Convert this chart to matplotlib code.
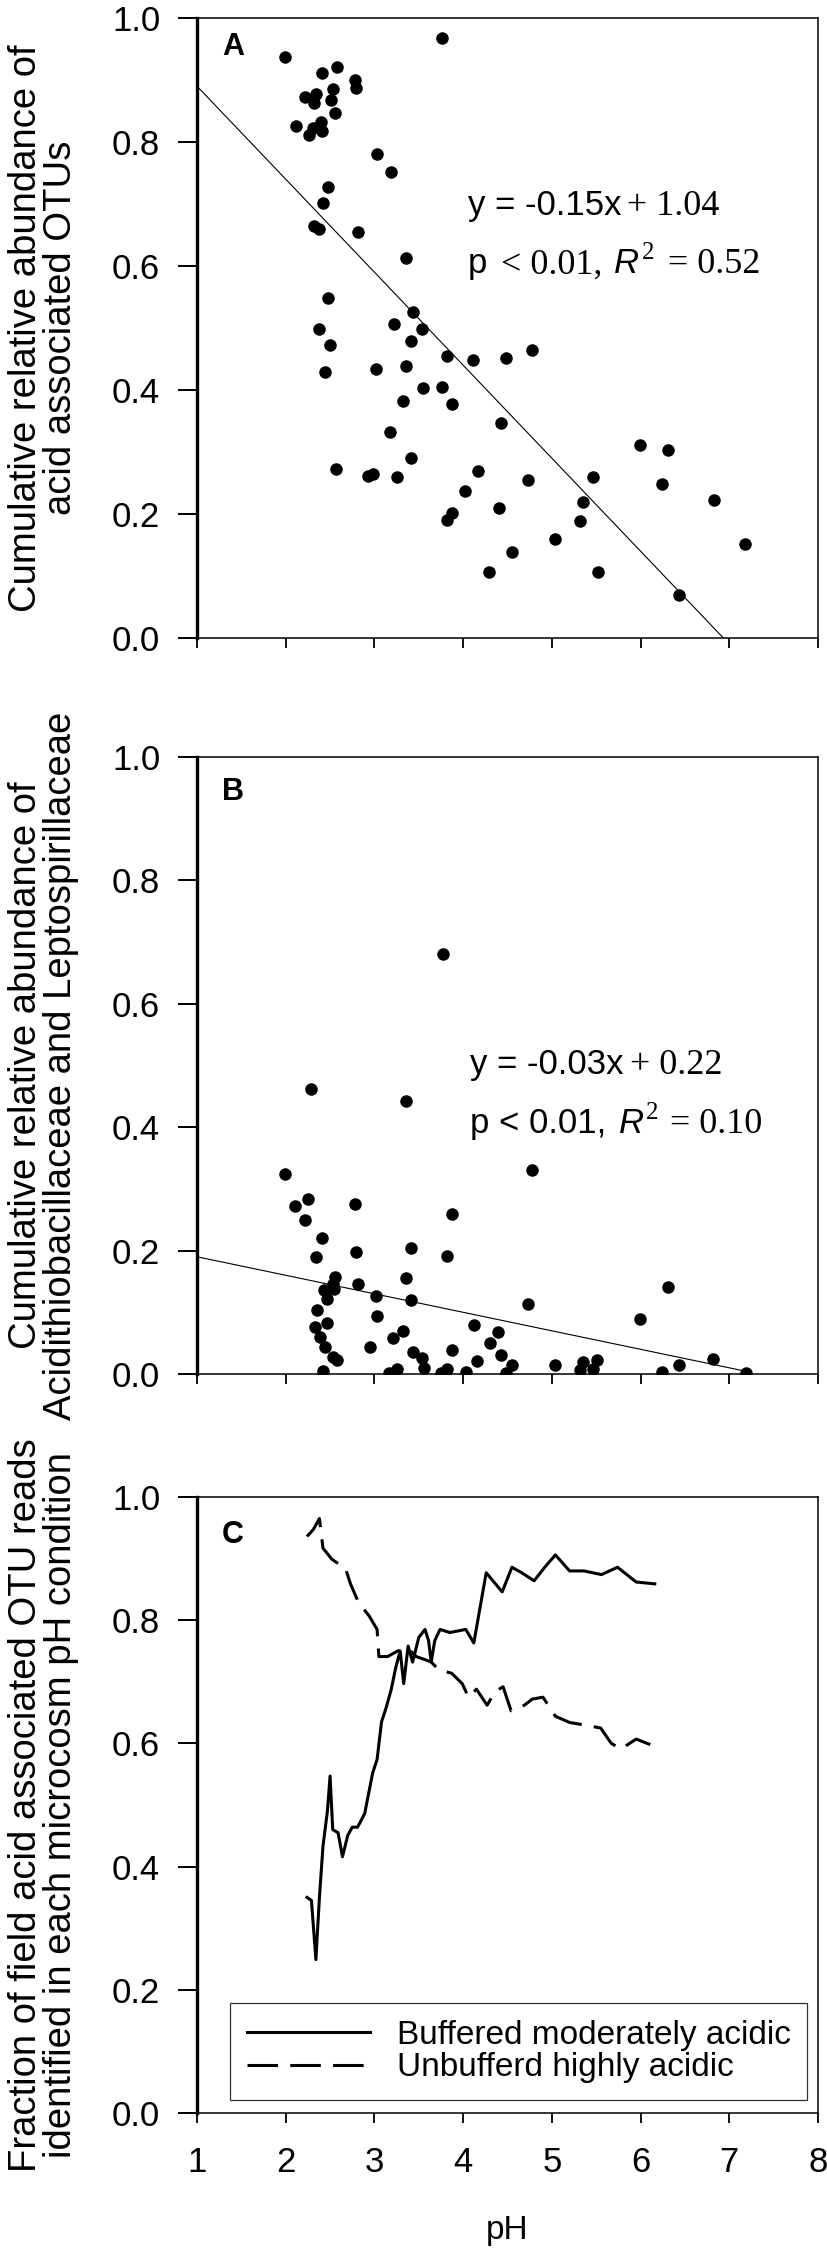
import matplotlib
matplotlib.use('Agg')
import numpy as np
import matplotlib.pyplot as plt
from matplotlib.transforms import offset_copy
from matplotlib.ticker import FormatStrFormatter

SANS = ['Liberation Sans', 'Arial', 'DejaVu Sans']
SERIF = ['Liberation Serif', 'Times New Roman', 'DejaVu Serif']
plt.rcParams['font.family'] = SANS

# ---------------- data ----------------
# Panel A: cumulative relative abundance of acid associated OTUs
ph_a = [1.99, 3.76, 2.41, 2.58, 2.78, 2.79, 2.22, 2.34, 2.53, 2.32, 2.51, 2.56,
        2.12, 2.26, 2.31, 2.40, 2.41, 3.03, 3.19, 2.48, 2.42, 2.32, 2.38, 2.82,
        3.36, 2.48, 2.37, 2.50, 2.44, 3.44, 3.22, 3.54, 3.41, 3.36, 3.02, 3.82,
        4.11, 4.48, 4.78, 3.55, 3.76, 3.32, 3.87, 4.43, 3.17, 3.41, 2.57, 2.93,
        2.98, 3.26, 4.17, 4.73, 4.02, 3.82, 3.88, 4.40, 4.55, 4.29, 5.04, 5.46,
        5.35, 5.32, 5.52, 5.99, 6.31, 6.24, 6.83, 7.18, 6.43]
abund_a = [0.937, 0.967, 0.912, 0.921, 0.900, 0.887, 0.873, 0.877, 0.885, 0.863,
           0.868, 0.846, 0.826, 0.811, 0.823, 0.832, 0.817, 0.780, 0.752, 0.727,
           0.702, 0.665, 0.659, 0.655, 0.613, 0.549, 0.498, 0.473, 0.429, 0.525,
           0.506, 0.498, 0.479, 0.439, 0.434, 0.455, 0.448, 0.451, 0.464, 0.403,
           0.405, 0.382, 0.377, 0.347, 0.333, 0.290, 0.272, 0.261, 0.264, 0.259,
           0.269, 0.255, 0.237, 0.190, 0.201, 0.209, 0.139, 0.107, 0.160, 0.259,
           0.220, 0.188, 0.107, 0.311, 0.304, 0.248, 0.223, 0.152, 0.070]
slope_a, intercept_a = -0.15, 1.04

# Panel B: cumulative relative abundance of Acidithiobacillaceae and Leptospirillaceae
ph_b = [3.77, 2.28, 3.36, 4.78, 1.99, 2.25, 2.11, 2.78, 2.22, 3.87, 2.41, 3.41,
        2.79, 2.34, 3.82, 3.36, 2.56, 2.53, 2.81, 6.31, 2.43, 2.54, 2.47, 3.02,
        3.41, 4.73, 2.35, 3.03, 5.99, 2.47, 2.33, 4.12, 4.39, 3.32, 3.21, 2.39,
        2.95, 4.30, 3.88, 2.44, 3.44, 4.43, 2.53, 2.58, 3.54, 4.16, 6.82, 4.55,
        3.56, 5.04, 5.35, 5.51, 6.43, 2.42, 3.26, 3.16, 3.82, 3.75, 4.03, 4.48,
        5.32, 5.46, 6.24, 7.19]
abund_b = [0.681, 0.462, 0.443, 0.331, 0.324, 0.283, 0.272, 0.275, 0.249, 0.260,
           0.220, 0.205, 0.198, 0.190, 0.191, 0.156, 0.157, 0.146, 0.146, 0.141,
           0.136, 0.138, 0.122, 0.127, 0.120, 0.113, 0.103, 0.094, 0.089, 0.082,
           0.076, 0.080, 0.068, 0.070, 0.059, 0.060, 0.044, 0.050, 0.039, 0.043,
           0.035, 0.030, 0.027, 0.023, 0.026, 0.021, 0.025, 0.014, 0.010, 0.015,
           0.019, 0.022, 0.014, 0.005, 0.008, 0.001, 0.008, 0.001, 0.003, 0.001,
           0.007, 0.008, 0.003, 0.001]
slope_b, intercept_b = -0.03, 0.22

# Panel C: fraction of field acid associated OTU reads
ph_buf = [2.24, 2.29, 2.34, 2.38, 2.42, 2.47, 2.50, 2.53, 2.59, 2.64, 2.70, 2.75,
          2.81, 2.89, 2.98, 3.03, 3.08, 3.13, 3.19, 3.24, 3.29, 3.33, 3.38, 3.43,
          3.50, 3.57, 3.61, 3.64, 3.68, 3.74, 3.85, 4.03, 4.12, 4.26, 4.44, 4.55,
          4.66, 4.80, 4.92, 5.04, 5.20, 5.36, 5.56, 5.74, 5.95, 6.16]
frac_buf = [0.350, 0.345, 0.249, 0.350, 0.433, 0.490, 0.547, 0.460, 0.455, 0.416,
            0.451, 0.464, 0.464, 0.486, 0.552, 0.574, 0.635, 0.657, 0.688, 0.723,
            0.750, 0.697, 0.758, 0.732, 0.772, 0.785, 0.767, 0.732, 0.767, 0.785,
            0.780, 0.785, 0.763, 0.877, 0.846, 0.886, 0.877, 0.864, 0.886, 0.906,
            0.880, 0.880, 0.874, 0.886, 0.862, 0.859]
ph_unbuf = [2.24, 2.31, 2.38, 2.42, 2.47, 2.52, 2.61, 2.67, 2.73, 2.82, 2.94, 3.03,
            3.05, 3.15, 3.26, 3.38, 3.47, 3.57, 3.64, 3.73, 3.87, 3.99, 4.06, 4.15,
            4.27, 4.36, 4.45, 4.54, 4.69, 4.78, 4.90, 5.04, 5.20, 5.32, 5.55, 5.67,
            5.78, 5.95, 6.11]
frac_unbuf = [0.936, 0.947, 0.965, 0.917, 0.908, 0.899, 0.890, 0.886, 0.859, 0.829,
              0.807, 0.785, 0.741, 0.741, 0.750, 0.754, 0.741, 0.736, 0.732, 0.719,
              0.714, 0.697, 0.675, 0.688, 0.662, 0.684, 0.692, 0.653, 0.662, 0.672,
              0.675, 0.644, 0.634, 0.631, 0.625, 0.600, 0.591, 0.607, 0.598]

xticks = [1, 2, 3, 4, 5, 6, 7, 8]
yticks = [0.0, 0.2, 0.4, 0.6, 0.8, 1.0]
label_a = 'Cumulative relative abundance of\nacid associated OTUs'
label_b = 'Cumulative relative abundance of\nAcidithiobacillaceae and Leptospirillaceae'
label_c = 'Fraction of field acid associated OTU reads\nidentified in each microcosm pH condition'
legend_labels = ['Buffered moderately acidic', 'Unbufferd highly acidic']

# ---------------- figure ----------------
W, H = 828, 2254
fig = plt.figure(figsize=(W / 100, H / 100), dpi=100)


def px_axes(left, top, right, bottom):
    return fig.add_axes([left / W, 1 - bottom / H, (right - left) / W, (bottom - top) / H])


axA = px_axes(197, 18, 818, 638)
axB = px_axes(197, 757, 818, 1374)
axC = px_axes(197, 1497, 818, 2113)


def style(ax, show_xlabels):
    ax.set_xlim(1, 8)
    ax.set_ylim(0, 1)
    ax.set_xticks(xticks)
    ax.set_yticks(yticks)
    ax.yaxis.set_major_formatter(FormatStrFormatter('%.1f'))
    ax.tick_params(axis='y', direction='out', length=13.5, width=1.4, pad=13,
                   labelsize=25, right=False)
    ax.tick_params(axis='x', direction='out', length=7, width=1.3, pad=17,
                   labelsize=25, top=False, labelbottom=show_xlabels)
    for side in ['top', 'right', 'bottom']:
        ax.spines[side].set_linewidth(1.1)
    ax.spines['left'].set_linewidth(2.4)


renderer = fig.canvas.get_renderer()


def chain_text(ax, x, y, pieces):
    dx = 0.0
    for s, gap, dy, kw in pieces:
        dx += gap
        t = ax.text(x, y, s, transform=offset_copy(ax.transData, fig=fig, x=dx, y=dy, units='dots'),
                    ha='left', va='baseline', **kw)
        bb = t.get_window_extent(renderer)
        dx += bb.width


sans = dict(family=SANS, fontsize=25)
sans_it = dict(family=SANS, fontsize=25, style='italic')
serif = dict(family=SERIF, fontsize=26)
sup = dict(family=SERIF, fontsize=18)

# Panel A
style(axA, False)
axA.plot(ph_a, abund_a, 'o', color='black', markersize=9, markeredgewidth=0)
xa = np.linspace(1, -intercept_a / slope_a, 50)
axA.plot(xa, slope_a * xa + intercept_a, color='black', lw=0.8)
axA.text(0.04, 0.977, 'A', transform=axA.transAxes, fontsize=22, fontweight='bold',
         ha='left', va='top')
chain_text(axA, 4.05, 0.683, [('y = -0.15x', 0, 0, sans), ('+ 1.04', 6, 0, serif)])
chain_text(axA, 4.05, 0.588, [('p', 0, 0, sans), ('< 0.01,', 14, 0, serif),
                              ('R', 12, 0, sans_it), ('2', 2, 14, sup), ('= 0.52', 14, 0, serif)])
axA.set_ylabel(label_a, fontsize=27.5, linespacing=0.95, va='center', ha='center')
axA.yaxis.set_label_coords(-0.247, 0.5)

# Panel B
style(axB, False)
axB.plot(ph_b, abund_b, 'o', color='black', markersize=9, markeredgewidth=0)
xb = np.linspace(1, max(ph_b), 50)
axB.plot(xb, slope_b * xb + intercept_b, color='black', lw=0.8)
axB.text(0.04, 0.967, 'B', transform=axB.transAxes, fontsize=22, fontweight='bold',
         ha='left', va='top')
chain_text(axB, 4.08, 0.486, [('y = -0.03x', 0, 0, sans), ('+ 0.22', 6, 0, serif)])
chain_text(axB, 4.08, 0.391, [('p < 0.01,', 0, 0, sans), ('R', 12, 0, sans_it),
                              ('2', 2, 14, sup), ('= 0.10', 12, 0, serif)])
axB.set_ylabel(label_b, fontsize=27.5, linespacing=0.95, va='center', ha='center')
axB.yaxis.set_label_coords(-0.247, 0.5)

# Panel C
style(axC, True)
axC.plot(ph_buf, frac_buf, color='black', lw=2.2, solid_joinstyle='round',
         label=legend_labels[0])
axC.plot(ph_unbuf, frac_unbuf, color='black', lw=2.2, dashes=(10, 4),
         label=legend_labels[1])
axC.text(0.04, 0.963, 'C', transform=axC.transAxes, fontsize=22, fontweight='bold',
         ha='left', va='top')
leg = axC.legend(loc='lower left', bbox_to_anchor=(0.053, 0.021, 0.93, 0.2),
                 mode='expand', borderaxespad=0, fontsize=24, handlelength=3.7,
                 handletextpad=0.8, borderpad=0.5, labelspacing=0.05,
                 fancybox=False, frameon=True, edgecolor='black')
leg.get_frame().set_linewidth(0.9)
axC.set_ylabel(label_c, fontsize=27.5, linespacing=0.95, va='center', ha='center')
axC.yaxis.set_label_coords(-0.247, 0.5)
axC.set_xlabel('pH', fontsize=24, va='center')
axC.xaxis.set_label_coords(0.5, -0.19)

fig.savefig('out.png', dpi=100)
